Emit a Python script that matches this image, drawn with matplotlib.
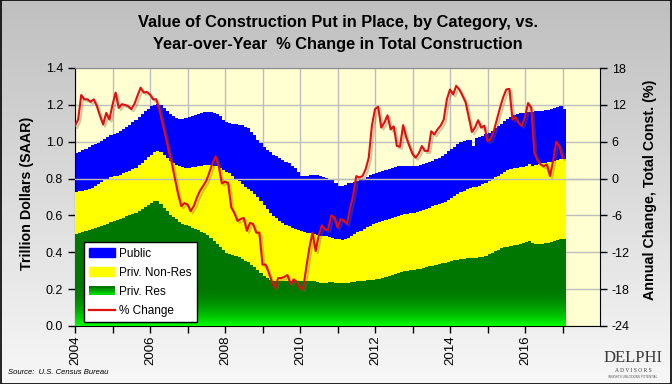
import numpy as np
import matplotlib
matplotlib.use("Agg")
import matplotlib.pyplot as plt
from matplotlib import font_manager
from matplotlib.patches import Rectangle
from matplotlib.legend_handler import HandlerBase
from matplotlib.lines import Line2D
import matplotlib.patheffects as pe

# ---------------- data (monthly, Jan 2004 .. Jan 2017), trillions SAAR ----------------
start_year = 2004
priv_res = [
    .500, .505, .510, .515, .520, .525, .530, .535, .545, .550, .555, .565,
    .570, .575, .580, .585, .595, .600, .610, .615, .625, .635, .645, .655,
    .670, .678, .678, .660, .640, .625, .605, .590, .578, .565, .555, .548,
    .540, .534, .528, .520, .512, .505, .495, .478, .462, .445, .428, .410,
    .398, .392, .386, .380, .372, .362, .354, .345, .333, .320, .305, .290,
    .272, .262, .252, .245, .243, .243, .244, .245, .246, .245, .244, .244,
    .243, .242, .244, .246, .243, .238, .235, .235, .236, .237, .237, .236,
    .235, .233, .234, .236, .238, .240, .242, .244, .246, .248, .250, .252,
    .253, .256, .260, .265, .270, .276, .283, .289, .293, .297, .300, .304,
    .306, .308, .311, .315, .319, .323, .327, .331, .335, .340, .344, .348,
    .352, .356, .360, .364, .366, .368, .369, .370, .371, .372, .375, .380,
    .388, .396, .405, .415, .422, .427, .431, .435, .438, .441, .443, .448,
    .455, .461, .452, .446, .443, .445, .448, .452, .456, .460, .465, .470,
    .470,
]
priv_nonres = [
    .227, .225, .225, .225, .225, .225, .230, .235, .235, .240, .245, .245,
    .242, .241, .242, .243, .239, .242, .240, .245, .247, .251, .255, .260,
    .260, .264, .272, .285, .290, .287, .290, .295, .298, .303, .308, .312,
    .320, .328, .337, .348, .358, .366, .377, .394, .408, .421, .430, .438,
    .440, .436, .429, .420, .413, .408, .402, .400, .399, .398, .395, .388,
    .383, .373, .363, .353, .342, .329, .316, .305, .294, .285, .280, .276,
    .272, .268, .262, .256, .255, .256, .255, .253, .250, .245, .241, .238,
    .235, .235, .238, .244, .252, .260, .268, .274, .280, .287, .295, .302,
    .307, .309, .310, .311, .312, .312, .311, .309, .309, .309, .310, .309,
    .309, .310, .311, .313, .316, .319, .323, .326, .328, .328, .331, .337,
    .343, .349, .356, .363, .369, .374, .379, .382, .385, .388, .393, .398,
    .400, .402, .403, .401, .403, .408, .414, .418, .420, .419, .419, .417,
    .413, .419, .418, .428, .435, .437, .437, .436, .436, .436, .435, .434,
    .438,
]
public = [
    .210, .215, .220, .222, .225, .230, .228, .225, .225, .225, .225, .225,
    .228, .232, .236, .240, .246, .250, .255, .258, .260, .262, .265, .265,
    .262, .258, .256, .255, .255, .256, .255, .253, .252, .254, .259, .268,
    .275, .278, .280, .284, .288, .291, .290, .288, .288, .286, .282, .272,
    .267, .272, .283, .295, .307, .318, .326, .327, .323, .317, .312, .314,
    .315, .320, .327, .332, .335, .338, .340, .342, .342, .340, .331, .315,
    .300, .302, .310, .318, .324, .324, .322, .318, .316, .316, .312, .301,
    .292, .292, .294, .294, .288, .282, .276, .274, .274, .275, .273, .272,
    .272, .273, .273, .272, .271, .270, .269, .268, .265, .262, .258, .255,
    .253, .250, .250, .250, .249, .248, .248, .249, .251, .256, .260, .263,
    .265, .267, .269, .269, .269, .268, .264, .223, .264, .266, .263, .262,
    .262, .262, .264, .269, .273, .275, .277, .281, .285, .290, .293, .293,
    .292, .283, .293, .291, .289, .286, .285, .284, .286, .289, .290, .289,
    .272,
]
# year-over-year % change in total construction
pct_change = [
    8.6, 9.6, 13.6, 12.9, 12.9, 12.5, 12.9, 11.8, 10.2, 8.8, 10.7, 9.6,
    12.0, 14.0, 11.5, 12.1, 12.0, 11.8, 11.3, 12.1, 13.5, 14.8, 14.0, 14.1,
    13.7, 12.9, 12.9, 11.3, 9.0, 6.9, 4.5, 2.5, -0.1, -2.5, -4.5, -4.0,
    -4.2, -5.3, -4.5, -3.1, -2.0, -1.2, -0.4, 1.0, 2.5, 3.6, 2.0, -0.8,
    -0.5, -0.7, -4.7, -5.6, -6.9, -6.6, -6.4, -8.5, -7.2, -7.4, -8.8, -8.8,
    -14.0, -14.0, -15.3, -16.8, -17.8, -16.2, -16.2, -16.0, -15.7, -17.2, -16.4, -16.8,
    -17.8, -18.0, -14.5, -11.3, -8.8, -11.8, -9.3, -7.6, -8.3, -8.3, -6.0, -6.3,
    -8.0, -6.6, -6.8, -7.4, -5.0, -2.8, 0.4, 0.2, 0.4, 1.5, 3.4, 8.6,
    11.3, 11.7, 8.3, 9.1, 10.3, 8.0, 8.5, 5.3, 5.2, 8.7, 6.7, 5.3,
    4.0, 3.4, 4.1, 5.3, 4.5, 4.5, 7.7, 7.2, 8.0, 8.6, 9.6, 12.9,
    14.5, 13.7, 15.1, 14.5, 13.5, 12.4, 10.0, 7.6, 8.3, 9.5, 8.3, 8.6,
    6.1, 6.4, 7.7, 9.6, 11.5, 13.2, 14.5, 14.6, 9.6, 10.0, 9.0, 8.6,
    10.0, 12.3, 11.5, 4.2, 3.0, 2.3, 2.0, 2.3, 0.4, 2.9, 6.0, 5.3,
    3.4,
]
series_labels = ["Public", "Priv. Non-Res", "Priv. Res", "% Change"]
year_labels = [2004, 2006, 2008, 2010, 2012, 2014, 2016]
left_ticks = [0.0, 0.2, 0.4, 0.6, 0.8, 1.0, 1.2, 1.4]
right_ticks = [-24, -18, -12, -6, 0, 6, 12, 18]
title_lines = ["Value of Construction Put in Place, by Category, vs.",
               "Year-over-Year  % Change in Total Construction"]

# ---------------- fonts ----------------
names = {f.name for f in font_manager.fontManager.ttflist}
base_font = "Liberation Sans" if "Liberation Sans" in names else "DejaVu Sans"
narrow_font = "Liberation Sans Narrow" if "Liberation Sans Narrow" in names else base_font
serif_font = "Liberation Serif" if "Liberation Serif" in names else "DejaVu Serif"
plt.rcParams["font.family"] = [base_font, "DejaVu Sans"]

# ---------------- figure ----------------
W, H = 672, 384
fig = plt.figure(figsize=(W / 100, H / 100), dpi=100)

# background gradient
bg = fig.add_axes([0, 0, 1, 1], zorder=-10)
gy = np.linspace(0, 1, 256)
shade = 0.75 + 0.22 * gy  # top gray -> bottom light
bg_img = np.dstack([shade, shade, shade]).reshape(256, 1, 3)
bg_img = np.repeat(bg_img, 2, axis=1)
bg.imshow(bg_img, aspect="auto", extent=[0, 1, 0, 1], origin="upper")
bg.set_axis_off()
fig.patches.append(Rectangle((0.0008, 0.0013), 0.9984, 0.9974, transform=fig.transFigure,
                             fill=False, edgecolor="black", lw=1.2))

ax = fig.add_axes([75 / W, 1 - 326 / H, 525 / W, 258 / H])
ax.set_zorder(1)
ax.set_facecolor("#FFFFD2")

n = len(priv_res)
res = np.array(priv_res)
nonres = np.array(priv_nonres)
pub = np.array(public)
t = start_year + np.arange(n) / 12.0
te = np.append(t, t[-1] + 1 / 12.0)
ext = lambda a: np.append(a, a[-1])
lvl1 = ext(res)
lvl2 = ext(res + nonres)
lvl3 = ext(res + nonres + pub)

ax.fill_between(te, 0, lvl3, step="post", color="#0000FF", lw=0, zorder=2)
ax.fill_between(te, 0, lvl2, step="post", color="#FFFF00", lw=0, zorder=3)
res_poly = ax.fill_between(te, 0, lvl1, step="post", facecolor="none", lw=0, zorder=4)

# green gradient clipped to residential area
yy = np.linspace(0, 1.4, 400)
f = np.clip(yy / 0.22, 0, 1)
g = 0.47 + 0.53 * (1 - f) ** 2
grad = np.dstack([np.zeros_like(g), g, np.zeros_like(g)]).reshape(400, 1, 3)
grad = np.repeat(grad, 2, axis=1)
im = ax.imshow(grad, aspect="auto", extent=[2004, 2018, 0, 1.4], origin="lower",
               interpolation="bilinear", zorder=4)
im.set_clip_path(res_poly.get_paths()[0], ax.transData)

ax.set_xlim(2004, 2018)
ax.set_ylim(0, 1.4)
ax.set_yticks(left_ticks)
ax.set_yticklabels([f"{v:.1f}" for v in left_ticks], fontsize=9)
ax.set_xticks(year_labels)
ax.set_xticklabels([str(y) for y in year_labels], rotation=90, fontsize=9.5)
ax.set_xticks(np.arange(2005, 2018, 2), minor=True)
ax.grid(True, which="both", axis="x", color="#BDBDBD", lw=1, zorder=0)
ax.grid(True, which="major", axis="y", color="#BDBDBD", lw=1, zorder=0)
ax.set_axisbelow(True)
ax.tick_params(axis="both", which="both", direction="out", length=5, width=1, color="black")
ax.tick_params(axis="x", which="both", pad=2)
for s in ["left", "bottom"]:
    ax.spines[s].set_color("black")
ax.spines["top"].set_color("#8C8C8C")
ax.spines["right"].set_visible(False)

ax2 = ax.twinx()
ax2.set_zorder(2)
ax2.patch.set_visible(False)
ax2.set_ylim(-24, 18)
ax2.set_yticks(right_ticks)
ax2.set_yticklabels([str(v) for v in right_ticks], fontsize=9)
ax2.tick_params(axis="y", direction="out", length=5, width=1, color="black")
ax2.spines["right"].set_color("black")
for s in ["left", "top", "bottom"]:
    ax2.spines[s].set_visible(False)
ax2.axhline(0, color="#BDBDBD", lw=1, zorder=1)
ax2.plot(t, pct_change, color="#E01010", lw=1.5, zorder=3,
         path_effects=[pe.SimpleLineShadow(offset=(1.5, -1.5), shadow_color="#806040", alpha=0.35),
                       pe.Normal()])

# legend
class ResPatch(Rectangle):
    pass

class GradHandler(HandlerBase):
    def create_artists(self, legend, orig_handle, xdescent, ydescent, width, height, fontsize, trans):
        arts = []
        k = 6
        for i in range(k):
            gg = 0.85 - 0.38 * (i / (k - 1))
            arts.append(Rectangle((-xdescent, -ydescent + i * height / k), width, height / k + 0.3,
                                  facecolor=(0, gg, 0), edgecolor="none", transform=trans))
        return arts

handles = [Rectangle((0, 0), 1, 1, color="#0000FF"),
           Rectangle((0, 0), 1, 1, color="#FFFF00"),
           ResPatch((0, 0), 1, 1),
           Line2D([], [], color="#E01010", lw=1.6)]
leg = ax2.legend(handles, series_labels, loc="lower left", bbox_to_anchor=(0.017, 0.015),
                 borderaxespad=0, fontsize=8.5, frameon=True, fancybox=False, framealpha=1,
                 edgecolor="black", handlelength=2.2, handleheight=0.7, labelspacing=0.6,
                 borderpad=0.45, handletextpad=0.3, handler_map={ResPatch: GradHandler()})
leg.get_frame().set_linewidth(1)

# texts
fig.text(338 / W, 1 - 22 / H, title_lines[0], ha="center", va="center", fontsize=11.8,
         fontweight="bold", family=[narrow_font, "DejaVu Sans"])
fig.text(338 / W, 1 - 44 / H, title_lines[1], ha="center", va="center", fontsize=11.8,
         fontweight="bold", family=[narrow_font, "DejaVu Sans"])
fig.text(27 / W, 1 - 193 / H, "Trillion Dollars (SAAR)", rotation=90, ha="center", va="center",
         fontsize=10.3, fontweight="bold")
fig.text(650 / W, 1 - 190 / H, "Annual Change, Total Const. (%)", rotation=90, ha="center",
         va="center", fontsize=10.3, fontweight="bold")
fig.text(8 / W, 1 - 373 / H, "Source:  U.S. Census Bureau", ha="left", va="center",
         fontsize=5.5, style="italic")
# logo (as text)
fig.text(633 / W, 1 - 358 / H, "DELPHI", ha="center", va="center", fontsize=12,
         family=[serif_font, "DejaVu Serif"], color="#3A3A3A")
fig.text(633 / W, 1 - 371 / H, "A D V I S O R S", ha="center", va="center", fontsize=4,
         family=[serif_font, "DejaVu Serif"], color="#3A3A3A")
fig.text(633 / W, 1 - 377 / H, "INSIGHTS UNLOCKING POTENTIAL", ha="center", va="center",
         fontsize=2.2, color="#555555")

fig.savefig("out.png", dpi=100)
